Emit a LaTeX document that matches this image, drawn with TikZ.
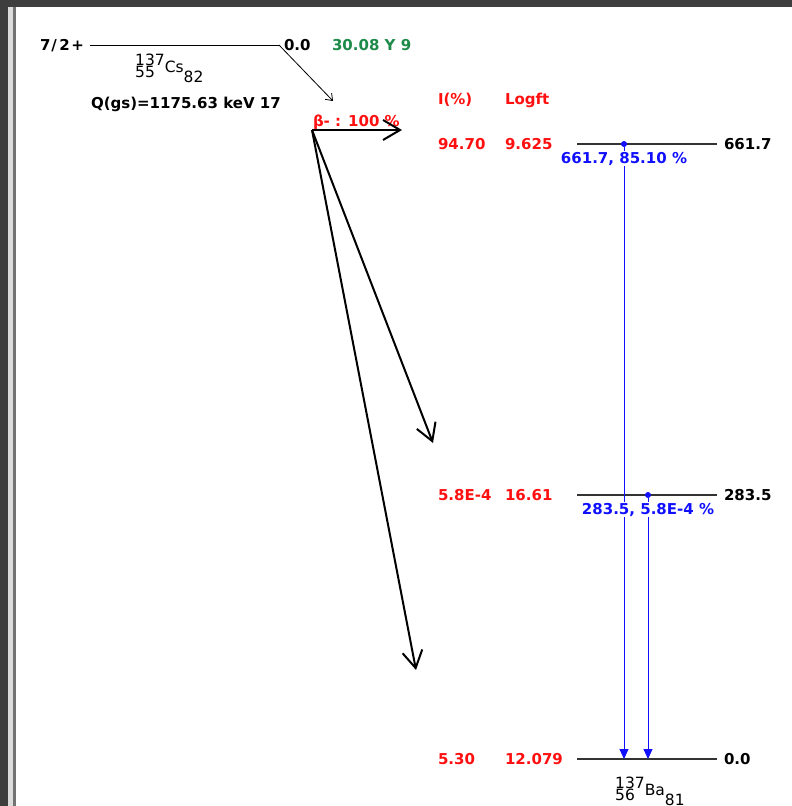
\documentclass[tikz,border=0pt]{standalone}
\usepackage{fontspec}
\setmainfont{DejaVu Sans}
\usetikzlibrary{arrows.meta}

\definecolor{frame}{HTML}{3E3E3E}
\definecolor{strip}{HTML}{DCDCDC}
\definecolor{lvlred}{HTML}{FF1010}
\definecolor{gamblue}{HTML}{1010FF}
\definecolor{halfgreen}{HTML}{1E8A4A}

\newcommand\nucl[4]{\rlap{#2}\raisebox{12pt}{#1}\raisebox{5pt}{#3}\raisebox{-5pt}{#4}}

\begin{document}
\begin{tikzpicture}[
    x = 1pt,
    y = -1pt,
    >=stealth,
    txt/.style = {anchor=base west, inner sep=0pt, outer sep=0pt,
              font=\bfseries\fontsize{15}{17}\selectfont},
    redtxt/.style = {txt, text=lvlred},
    blutxt/.style = {txt, text=gamblue, anchor=base, fill=white, inner sep=1pt},
    nuctxt/.style = {anchor=base west, inner sep=0pt,
              font=\fontsize{15.5}{17}\selectfont},
    level/.style = {black!80, line width=1.2pt},
    beta/.style = {black, line width=2pt,
              -{Straight Barb[length=17pt, width=20pt]}},
    gamma/.style = {gamblue, line width=1pt,
              -{Triangle[length=10pt, width=9pt]}},
    dot/.style = {circle, fill=gamblue, minimum size=6pt,
              inner sep=0pt, outer sep=0pt},
    ]

\fill[frame] (0,0) rectangle (792,806);
\fill[strip] (8,7) rectangle (13,806);
\fill[black!55] (13,7) rectangle (16,806);
\fill[white] (16,7) rectangle (792,806);
\useasboundingbox (0,0) rectangle (792,806);

\node[txt] (spin) at (40,50) {7\kern1pt/\kern2.5pt2\kern1.5pt+};
\coordinate (par_l) at (90,45);
\coordinate (par_r) at (279,45);
\draw[black, line width=1pt] (par_l) -- (par_r);
\node[txt] (par_e) at (284,50) {0.0};
\node[txt, text=halfgreen] (par_t) at (332,50) {30.08 Y 9};
\node[nuctxt] (cs) at (135,77) {\nucl{137}{55}{Cs}{82}};
\node[txt] (qval) at (91,108) {Q(gs)=1175.63 keV 17};
\coordinate (bm_tip) at (333,101);
\draw[black, line width=0.8pt, -{Straight Barb[length=6pt, width=9pt]}] (par_r) -- (bm_tip);

\node[redtxt] (bm) at (313,126) {β- : 100 \%};
\node[redtxt] (hd_i) at (438,104) {I(\%)};
\node[redtxt] (hd_l) at (505,104) {Logft};

\coordinate (lv2_l) at (577,144);
\coordinate (lv2_r) at (717,144);
\coordinate (lv1_l) at (577,495);
\coordinate (lv1_r) at (717,495);
\coordinate (lv0_l) at (577,759);
\coordinate (lv0_r) at (717,759);
\draw[level] (lv2_l) -- (lv2_r);
\draw[level] (lv1_l) -- (lv1_r);
\draw[level] (lv0_l) -- (lv0_r);
\node[txt] (e2) at (724,149) {661.7};
\node[txt] (e1) at (724,500) {283.5};
\node[txt] (e0) at (724,764) {0.0};

\node[redtxt] (i2) at (438,149) {94.70};
\node[redtxt] (f2) at (505,149) {9.625};
\node[redtxt] (i1) at (438,500) {5.8E-4};
\node[redtxt] (f1) at (505,500) {16.61};
\node[redtxt] (i0) at (438,764) {5.30};
\node[redtxt] (f0) at (505,764) {12.079};

\coordinate (b0) at (312,130);
\coordinate (b2) at (402,130);
\coordinate (b1) at (433,443);
\coordinate (bg) at (416,670);
\draw[beta] (b0) -- (b2);
\draw[beta] (b0) -- (b1);
\draw[beta] (b0) -- (bg);

\node[dot] (g2s) at (624,144) {};
\node[dot] (g1s) at (648,495) {};
\coordinate (g2e) at (624,759);
\coordinate (g1e) at (648,759);
\draw[gamma] (g2s) -- (g2e);
\draw[gamma] (g1s) -- (g1e);
\node[blutxt] (g2l) at (624,163) {661.7, 85.10 \%};
\node[blutxt] (g1l) at (648,514) {283.5, 5.8E-4 \%};

\node[nuctxt] (ba) at (615,800) {\nucl{137}{56}{Ba}{81}};

\end{tikzpicture}
\end{document}
